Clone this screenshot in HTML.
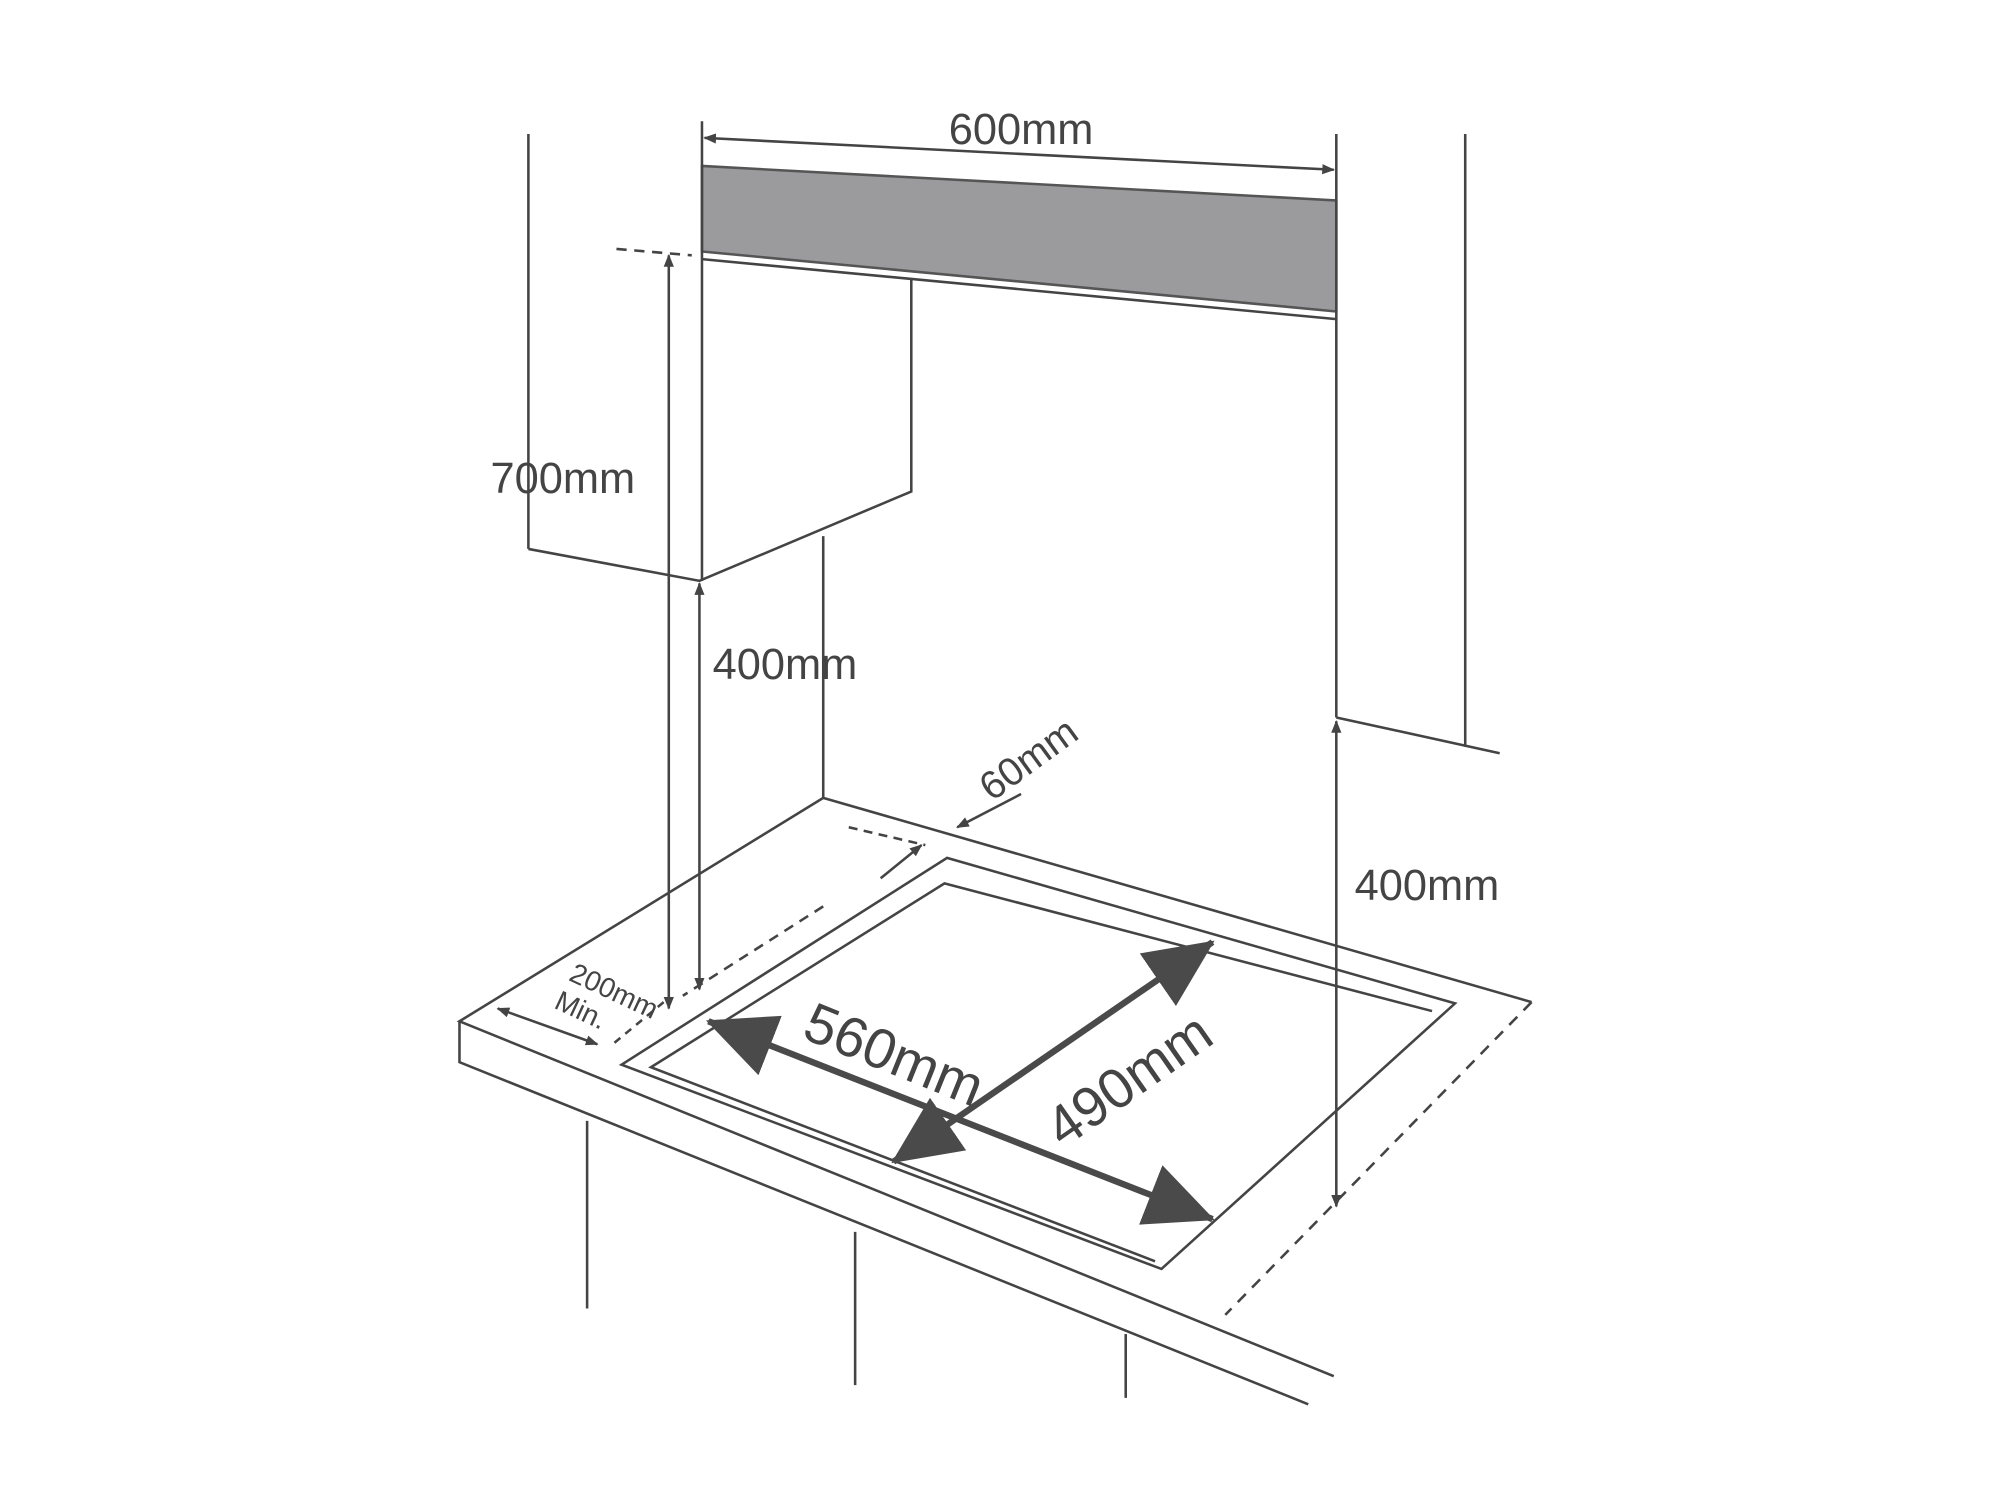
<!DOCTYPE html>
<html><head><style>html,body{margin:0;padding:0;background:#fff;}svg{display:block}</style></head>
<body>
<svg width="2000" height="1500" viewBox="0 0 1567 1175" preserveAspectRatio="none" xmlns="http://www.w3.org/2000/svg">
<defs>
<marker id="a" markerWidth="10" markerHeight="8" refX="9" refY="4" orient="auto-start-reverse" markerUnits="userSpaceOnUse"><path d="M0,0 L10,4 L0,8 z" fill="#444"/></marker>
<marker id="b" markerWidth="56" markerHeight="50" refX="52" refY="25" orient="auto-start-reverse" markerUnits="userSpaceOnUse"><path d="M0,0 L54,25 L0,50 z" fill="#4a4a4a"/></marker>
</defs>
<g stroke="#444" stroke-width="2" fill="none">
<polygon points="550,130 1047,157 1047,244 550,197" fill="#9b9b9e" stroke="#555"/>
<line x1="550" y1="203" x2="1047" y2="250"/>
<line x1="550" y1="95" x2="550" y2="455"/>
<line x1="1047" y1="105" x2="1047" y2="562"/>
<line x1="552" y1="108" x2="1045" y2="133" marker-start="url(#a)" marker-end="url(#a)"/>
<line x1="1148" y1="105" x2="1148" y2="585"/>
<line x1="1047" y1="562" x2="1175" y2="590"/>
<line x1="1047" y1="565" x2="1047" y2="945" marker-start="url(#a)" marker-end="url(#a)"/>
<line x1="414" y1="105" x2="414" y2="430"/>
<polyline points="414,430 548,455 714,385 714,218"/>
<line x1="483" y1="195" x2="542" y2="200" stroke-dasharray="8,6"/>
<line x1="524" y1="200" x2="524" y2="790" marker-start="url(#a)" marker-end="url(#a)"/>
<line x1="548" y1="457" x2="548" y2="775" marker-start="url(#a)" marker-end="url(#a)"/>
<line x1="645" y1="420" x2="645" y2="625"/>
<polyline points="1200,785 645,625 360,800 1045,1078"/>
<polyline points="360,800 360,832 1025,1100"/>
<line x1="1200" y1="785" x2="960" y2="1030" stroke-dasharray="9,7"/>
<line x1="460" y1="878" x2="460" y2="1025"/>
<line x1="670" y1="965" x2="670" y2="1085"/>
<line x1="882" y1="1045" x2="882" y2="1095"/>
<polygon points="742,672 1140,786 910,994 487,834"/>
<polyline points="1122,792 740,692 510,836 905,988"/>
<line x1="645" y1="710" x2="535" y2="780" stroke-dasharray="8,6"/>
<line x1="520" y1="785" x2="480" y2="818" stroke-dasharray="6,5"/>
<line x1="665" y1="648" x2="725" y2="662" stroke-dasharray="7,5"/>
<line x1="690" y1="688" x2="722" y2="662" marker-end="url(#a)"/>
<line x1="800" y1="622" x2="750" y2="648" marker-end="url(#a)"/>
<line x1="390" y1="790" x2="468" y2="818" marker-start="url(#a)" marker-end="url(#a)"/>
<line x1="555" y1="800" x2="950" y2="955" stroke-width="5" stroke="#4a4a4a" marker-start="url(#b)" marker-end="url(#b)"/>
<line x1="950" y1="738" x2="700" y2="910" stroke-width="5" stroke="#4a4a4a" marker-start="url(#b)" marker-end="url(#b)"/>
</g>
<g font-family="Liberation Sans, sans-serif" fill="#444">
<text x="800" y="113" font-size="34" text-anchor="middle">600mm</text>
<text x="441" y="386" font-size="34" text-anchor="middle">700mm</text>
<text x="615" y="532" font-size="34" text-anchor="middle">400mm</text>
<text x="1118" y="705" font-size="34" text-anchor="middle">400mm</text>
<text font-size="31" text-anchor="middle" transform="translate(812,603) rotate(-36)">60mm</text>
<text font-size="22" text-anchor="middle" transform="translate(478,783) rotate(25)">200mm</text>
<text font-size="22" text-anchor="middle" transform="translate(452,798) rotate(25)">Min.</text>
<text font-size="44" text-anchor="middle" transform="translate(695,840) rotate(22)">560mm</text>
<text font-size="44" text-anchor="middle" transform="translate(893,858) rotate(-35)">490mm</text>
</g>
</svg>
</body></html>
